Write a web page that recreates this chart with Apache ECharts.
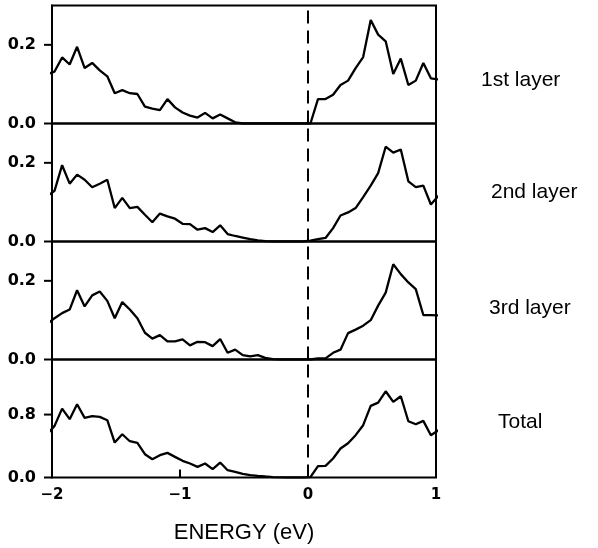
<!DOCTYPE html>
<html>
<head>
<meta charset="utf-8">
<script src="https://cdn.jsdelivr.net/npm/echarts@6/dist/echarts.min.js"></script>
<style>html,body{margin:0;padding:0;background:#fff}#c{width:598px;height:548px}</style>
</head>
<body>
<div id="c"></div>
<script>
// Energy grid (eV)
const energy = [-2.039, -1.980, -1.921, -1.862, -1.804, -1.745, -1.686, -1.627, -1.568, -1.510, -1.451, -1.392, -1.333, -1.274, -1.216, -1.157, -1.098, -1.039, -0.980, -0.922, -0.863, -0.804, -0.745, -0.686, -0.628, -0.569, -0.510, -0.451, -0.392, -0.334, -0.275, -0.216, -0.157, -0.098, -0.040, 0.019, 0.078, 0.137, 0.196, 0.254, 0.313, 0.372, 0.431, 0.490, 0.548, 0.607, 0.666, 0.725, 0.784, 0.842, 0.901, 0.960, 1.019];

const layer1 = [0.125, 0.132, 0.168, 0.150, 0.195, 0.141, 0.154, 0.135, 0.120, 0.077, 0.085, 0.077, 0.075, 0.043, 0.038, 0.034, 0.062, 0.041, 0.028, 0.020, 0.015, 0.027, 0.013, 0.023, 0.013, 0.003, 0.000, 0, 0, 0, 0, 0, 0, 0, 0, 0.000, 0.062, 0.062, 0.073, 0.098, 0.109, 0.141, 0.169, 0.263, 0.226, 0.209, 0.126, 0.165, 0.098, 0.109, 0.154, 0.115, 0.112];

const layer2 = [0.115, 0.129, 0.194, 0.147, 0.170, 0.157, 0.138, 0.147, 0.157, 0.085, 0.111, 0.085, 0.088, 0.068, 0.049, 0.071, 0.064, 0.058, 0.045, 0.044, 0.030, 0.034, 0.024, 0.041, 0.019, 0.014, 0.010, 0.006, 0.003, 0.001, 0, 0, 0, 0, 0, 0.002, 0.006, 0.009, 0.034, 0.066, 0.074, 0.085, 0.113, 0.142, 0.174, 0.241, 0.226, 0.234, 0.153, 0.138, 0.142, 0.094, 0.116];

const layer3 = [0.090, 0.105, 0.118, 0.127, 0.176, 0.135, 0.163, 0.173, 0.149, 0.105, 0.146, 0.127, 0.105, 0.068, 0.053, 0.062, 0.046, 0.046, 0.051, 0.036, 0.045, 0.044, 0.034, 0.052, 0.017, 0.025, 0.011, 0.008, 0.011, 0.004, 0.001, 0, 0, 0, 0, 0, 0.003, 0.003, 0.017, 0.025, 0.067, 0.076, 0.086, 0.100, 0.137, 0.170, 0.242, 0.217, 0.196, 0.179, 0.113, 0.113, 0.112];

const total = [0.550, 0.656, 0.876, 0.741, 0.931, 0.758, 0.779, 0.770, 0.728, 0.444, 0.550, 0.461, 0.440, 0.296, 0.233, 0.284, 0.313, 0.262, 0.212, 0.178, 0.135, 0.178, 0.106, 0.190, 0.093, 0.072, 0.047, 0.030, 0.021, 0.013, 0.006, 0.002, 0, 0, 0, 0.005, 0.144, 0.148, 0.241, 0.368, 0.436, 0.538, 0.665, 0.910, 0.952, 1.096, 0.961, 1.033, 0.715, 0.677, 0.720, 0.538, 0.600];

const panelNames = ['1st layer', '2nd layer', '3rd layer', 'Total'];
const panelValues = [layer1, layer2, layer3, total];
const yMax = [0.3, 0.3, 0.3, 1.5];
const yTickValues = [[0, 0.2], [0, 0.2], [0, 0.2], [0, 0.8]];
const xTickLabels = [-2, -1, 0, 1];
const xInnerTicks = [-1, 0];
const xTitle = 'ENERGY (eV)';

// layout (styles/positions only)
const PANEL_TOP = 5.5, PANEL_H = 118, LEFT = 52, WIDTH = 384, TICK_LEN = 8;
const labelPos = [[481, 80], [491, 192], [489, 308], [498, 422]];

const chart = echarts.init(document.getElementById('c'), null, {renderer: 'canvas'});

const grids = [], xAxes = [], yAxes = [], series = [], graphics = [];
for (let i = 0; i < 4; i++) {
  const last = i === 3;
  grids.push({left: LEFT, width: WIDTH, top: PANEL_TOP + PANEL_H * i, height: PANEL_H,
    show: true, borderColor: '#000', borderWidth: 2, backgroundColor: 'transparent'});
  xAxes.push({
    type: 'value', gridIndex: i, min: -2, max: 1, interval: 1,
    axisLine: {show: false, onZero: false}, splitLine: {show: false},
    axisTick: last ? {show: true, inside: true, length: 8, customValues: xInnerTicks,
      lineStyle: {color: '#000', width: 2}} : {show: false},
    axisLabel: last ? {show: true, customValues: xTickLabels, margin: 10,
      color: '#000', fontFamily: 'DejaVu Sans', fontWeight: 'bold', fontSize: 15,
      formatter: v => (v < 0 ? '\u2212' + Math.abs(v) : String(v))} : {show: false},
    name: last ? xTitle : '', nameLocation: 'middle', nameGap: 44,
    nameTextStyle: {color: '#000', fontFamily: 'Liberation Sans', fontSize: 22}
  });
  yAxes.push({
    type: 'value', gridIndex: i, min: 0, max: yMax[i],
    axisLine: {show: true, onZero: false, lineStyle: {color: '#000', width: 2}},
    splitLine: {show: false},
    axisTick: {show: false},
    axisLabel: {show: true, customValues: yTickValues[i], margin: 16, color: '#000',
      fontFamily: 'DejaVu Sans', fontWeight: 'bold', fontSize: 16,
      formatter: v => v.toFixed(1)}
  });
  series.push({
    type: 'line', xAxisIndex: i, yAxisIndex: i, showSymbol: false, symbol: 'none',
    smooth: false, clip: true,
    lineStyle: {color: '#000', width: 2.3},
    data: energy.map((e, k) => [e, panelValues[i][k]]),
    markLine: {silent: true, symbol: ['none', 'none'], label: {show: false},
      lineStyle: {color: '#000', width: 2, type: [13, 7]},
      data: [{xAxis: 0}]}
  });
  graphics.push({type: 'text', x: labelPos[i][0], y: labelPos[i][1],
    style: {text: panelNames[i], fill: '#000', font: '21px "Liberation Sans"',
      textAlign: 'left', textVerticalAlign: 'middle'}});
}

chart.setOption({
  animation: false,
  backgroundColor: '#fff',
  grid: grids, xAxis: xAxes, yAxis: yAxes, series: series, graphic: graphics
});

// outward y ticks, placed through the library's own scales
const tickGraphics = [];
for (let i = 0; i < 4; i++) {
  yTickValues[i].forEach(v => {
    const p = chart.convertToPixel({gridIndex: i}, [-2, v]);
    tickGraphics.push({type: 'line', silent: true,
      shape: {x1: p[0] - TICK_LEN, y1: p[1], x2: p[0], y2: p[1]},
      style: {stroke: '#000', lineWidth: 2}});
  });
}
chart.setOption({graphic: graphics.concat(tickGraphics)});
</script>
</body>
</html>
